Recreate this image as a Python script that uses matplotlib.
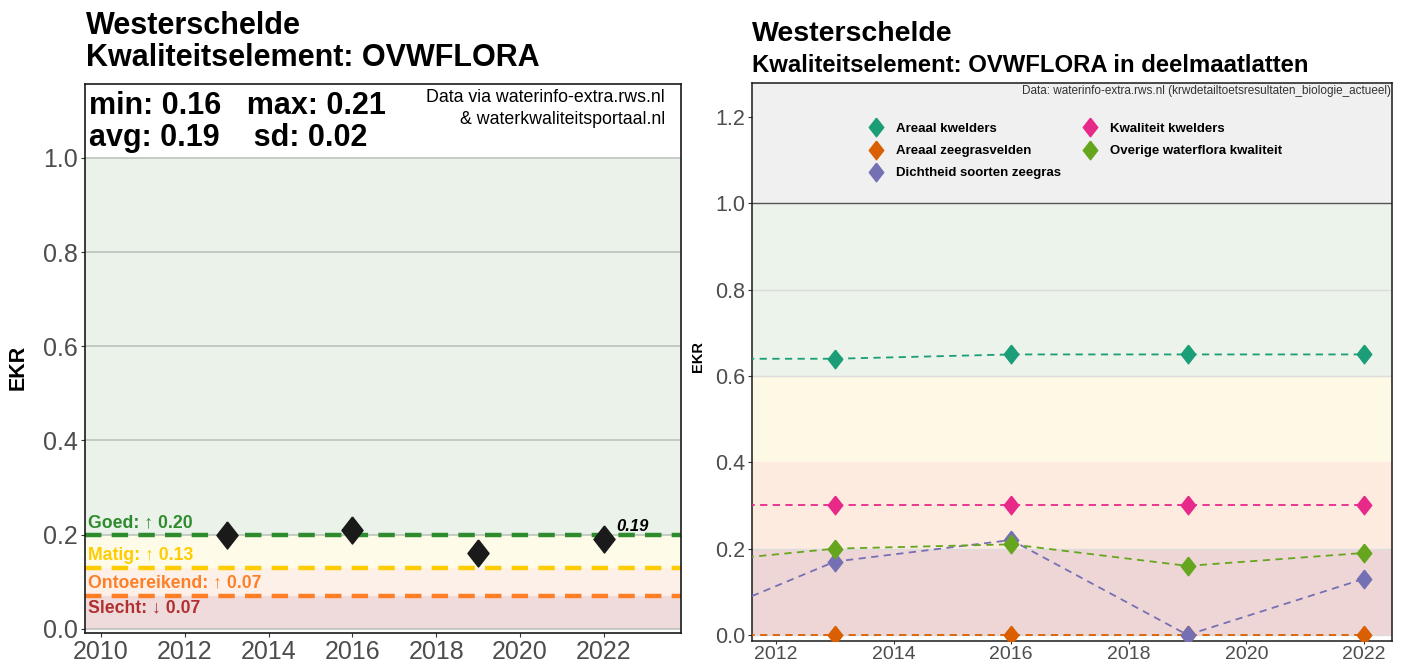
import matplotlib
matplotlib.use("Agg")
import matplotlib.pyplot as plt
import numpy as np

plt.rcParams['font.family'] = ['Liberation Sans', 'DejaVu Sans']

# ---- data ----
years_left = [2013, 2016, 2019, 2022]
ekr_left = [0.20, 0.21, 0.16, 0.19]
thresholds = [0.20, 0.13, 0.07]
threshold_names = ["Goed", "Matig", "Ontoereikend"]

years_right = [2010, 2013, 2016, 2019, 2022]
series_names = ["Areaal kwelders", "Areaal zeegrasvelden", "Dichtheid soorten zeegras",
                "Kwaliteit kwelders", "Overige waterflora kwaliteit"]
areaal_kwelders = [0.64, 0.64, 0.65, 0.65, 0.65]
areaal_zeegrasvelden = [0.0, 0.0, 0.0, 0.0, 0.0]
dichtheid_zeegras = [0.0, 0.17, 0.22, 0.0, 0.13]
kwaliteit_kwelders = [0.30, 0.30, 0.30, 0.30, 0.30]
overige_waterflora = [0.16, 0.20, 0.21, 0.16, 0.19]
series_values = [areaal_kwelders, areaal_zeegrasvelden, dichtheid_zeegras,
                 kwaliteit_kwelders, overige_waterflora]
series_colors = ["#1b9e77", "#d95f02", "#7570b3", "#e7298a", "#66a61e"]

diamond = [(0, 1), (0.78, 0), (0, -1), (-0.78, 0), (0, 1)]

fig = plt.figure(figsize=(14.03, 6.65), dpi=100)

# ---------------- left panel ----------------
axL = fig.add_axes([0.0606, 0.0481, 0.4248, 0.8256])
xl0, xl1 = 2009.62, 2023.84
axL.set_xlim(xl0, xl1)
axL.set_ylim(-0.009, 1.157)
band_cols = ["#efdbdb", "#fdf0e9", "#fefbe9", "#ebf2ea"]
bounds = [0.0, thresholds[2], thresholds[1], thresholds[0], 1.0]
for i, c in enumerate(band_cols):
    axL.axhspan(bounds[i], bounds[i + 1], color=c, zorder=0, lw=0)
for yv in [0.0, 0.2, 0.4, 0.6, 0.8, 1.0]:
    axL.axhline(yv, color="#b8bfb8", lw=1.1, zorder=1)
line_cols = ["#2e8b2e", "#ffcc00", "#ff7f27"]
for t, c in zip(thresholds, line_cols):
    axL.axhline(t, color=c, lw=3.2, ls=(0, (3.7, 2.3)), zorder=2)
lab_cols = ["#2e8b2e", "#ffcc00", "#ff7f27", "#b22f2f"]
labs = [f"{threshold_names[0]}: \u2191 {thresholds[0]:.2f}",
        f"{threshold_names[1]}: \u2191 {thresholds[1]:.2f}",
        f"{threshold_names[2]}: \u2191 {thresholds[2]:.2f}",
        f"Slecht: \u2193 {thresholds[2]:.2f}"]
lab_y = [thresholds[0] + 0.025, thresholds[1] + 0.025, thresholds[2] + 0.027, thresholds[2] - 0.025]
for s, yv, c in zip(labs, lab_y, lab_cols):
    axL.text(xl0 + 0.08, yv, s, color=c, fontsize=12.7, fontweight="bold", va="center", ha="left", zorder=4)
axL.plot(years_left, ekr_left, ls="none", marker=diamond, ms=19.5, color="#1a1a1a", zorder=5)
axL.text(years_left[-1] + 0.3, ekr_left[-1] + 0.027, f"{ekr_left[-1]:.2f}", fontsize=12,
         fontweight="bold", style="italic", va="center", ha="left", zorder=6)
vals = np.array(ekr_left)
axL.text(0.006, 0.988, f"min: {vals.min():.2f}   max: {vals.max():.2f}\navg: {vals.mean():.2f}    sd: {vals.std(ddof=1):.2f}",
         transform=axL.transAxes, fontsize=22, fontweight="bold", va="top", ha="left", linespacing=1.1)
axL.text(0.973, 0.99, "Data via waterinfo-extra.rws.nl\n& waterkwaliteitsportaal.nl", transform=axL.transAxes,
         fontsize=12.8, va="top", ha="right", linespacing=1.35)
axL.set_yticks([0.0, 0.2, 0.4, 0.6, 0.8, 1.0])
axL.set_yticklabels(["0.0", "0.2", "0.4", "0.6", "0.8", "1.0"])
axL.set_xticks([2010, 2012, 2014, 2016, 2018, 2020, 2022])
axL.tick_params(labelsize=18, labelcolor="#4d4d4d", color="#333333", length=3, pad=2)
axL.set_ylabel("EKR", fontsize=15.5, fontweight="bold")
axL.yaxis.set_label_coords(-0.095, 0.483)
for sp in axL.spines.values():
    sp.set_color("#1a1a1a")
    sp.set_linewidth(1.2)
fig.text(86 / 1403, 1 - 11 / 665, "Westerschelde\nKwaliteitselement: OVWFLORA", fontsize=22,
         fontweight="bold", va="top", ha="left", linespacing=1.1)

# ---------------- right panel ----------------
axR = fig.add_axes([0.536, 0.0361, 0.4562, 0.8391])
axR.set_xlim(2011.59, 2022.48)
axR.set_ylim(-0.014, 1.279)
rb = [0.0, 0.2, 0.4, 0.6, 1.0, 1.279]
rc = ["#eed6d7", "#fdebe0", "#fef9e5", "#ebf3ea", "#f0f0f0"]
for i, c in enumerate(rc):
    axR.axhspan(rb[i], rb[i + 1], color=c, zorder=0, lw=0)
for yv in [0.0, 0.2, 0.6, 0.8]:
    axR.axhline(yv, color="#dcdcdc", lw=1.0, zorder=1)
axR.axhline(1.0, color="#555555", lw=1.0, zorder=1)
for name, v, c in zip(series_names, series_values, series_colors):
    axR.plot(years_right, v, color=c, ls=(0, (4, 3)), lw=1.3, zorder=3)
    axR.plot(years_right, v, ls="none", marker=diamond, ms=13.4, color=c, label=name, zorder=4)
leg = axR.legend(loc="upper left", bbox_to_anchor=(0.163, 0.95), ncol=2, frameon=False,
                 prop={"size": 9.5, "weight": "bold"}, handletextpad=0.9, columnspacing=1.6,
                 labelspacing=0.75, handlelength=1.2)
axR.text(0.998, 0.997, "Data: waterinfo-extra.rws.nl (krwdetailtoetsresultaten_biologie_actueel)",
         transform=axR.transAxes, fontsize=8.5, va="top", ha="right", color="#333333")
axR.set_yticks([0.0, 0.2, 0.4, 0.6, 0.8, 1.0, 1.2])
axR.set_yticklabels(["0.0", "0.2", "0.4", "0.6", "0.8", "1.0", "1.2"])
axR.set_xticks([2012, 2014, 2016, 2018, 2020, 2022])
axR.tick_params(axis="y", labelsize=15.5, labelcolor="#4d4d4d", color="#333333", length=3, pad=2)
axR.tick_params(axis="x", labelsize=14, labelcolor="#4d4d4d", color="#333333", length=2.5, pad=1)
axR.set_ylabel("EKR", fontsize=10.5, fontweight="bold")
axR.yaxis.set_label_coords(-0.073, 0.509)
for sp in axR.spines.values():
    sp.set_color("#1a1a1a")
    sp.set_linewidth(1.1)
fig.text(752 / 1403, 1 - 21 / 665, "Westerschelde", fontsize=20.5, fontweight="bold", va="top", ha="left")
fig.text(752 / 1403, 1 - 54 / 665, "Kwaliteitselement: OVWFLORA in deelmaatlatten", fontsize=17.2,
         fontweight="bold", va="top", ha="left")

fig.savefig("out.png", dpi=100)
